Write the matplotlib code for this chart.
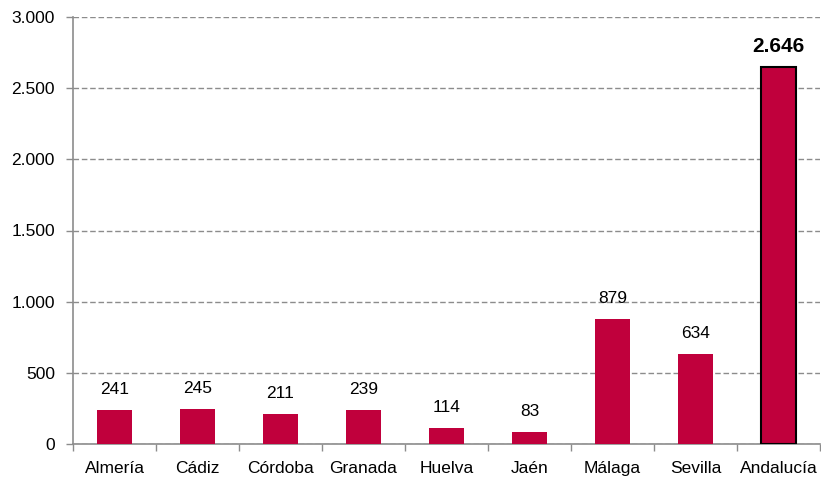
import matplotlib
matplotlib.use("Agg")
import matplotlib.pyplot as plt
from matplotlib.ticker import FuncFormatter, FixedLocator
import numpy as np

categories = ["Almería", "Cádiz", "Córdoba", "Granada", "Huelva", "Jaén", "Málaga", "Sevilla", "Andalucía"]
values = [241, 245, 211, 239, 114, 83, 879, 634, 2646]

plt.rcParams['font.family'] = ['Liberation Sans', 'DejaVu Sans']

fig = plt.figure(figsize=(8.21, 4.78), dpi=100)
ax = fig.add_axes([73/821, (478-444)/478, (820-73)/821, (444-17)/478])

color = "#C0003C"
x = np.arange(len(categories))
for i, v in enumerate(values):
    last = i == len(values) - 1
    ax.bar(x[i], v, width=0.41, color=color,
           edgecolor="black" if last else color, linewidth=1.5 if last else 0, zorder=3)
    ax.text(x[i], v + 145, f"{v:,}".replace(",", "."), ha="center", va="center",
            fontsize=15 if last else 12.5, fontweight="bold" if last else "normal", zorder=4)

ax.set_xlim(-0.5, len(categories) - 0.5)
ax.set_ylim(0, 3000)
ax.set_yticks(np.arange(0, 3001, 500))
ax.yaxis.set_major_formatter(FuncFormatter(lambda v, p: f"{int(v):,}".replace(",", ".")))
ax.set_xticks(x)
ax.set_xticklabels(categories)
ax.xaxis.set_minor_locator(FixedLocator(np.arange(-0.5, len(categories), 1.0)))
ax.tick_params(axis="x", which="major", length=0, pad=12, labelsize=12.5)
ax.tick_params(axis="x", which="minor", length=5, color="#8c8c8c", width=1)
ax.tick_params(axis="y", length=5, color="#8c8c8c", width=1, labelsize=12.5, pad=8)

ax.grid(axis="y", linestyle=(0, (4, 2)), color="#8c8c8c", linewidth=1, zorder=0)
for s in ["top", "right"]:
    ax.spines[s].set_visible(False)
for s in ["left", "bottom"]:
    ax.spines[s].set_color("#8c8c8c")
    ax.spines[s].set_linewidth(1.2)

fig.savefig("out.png", dpi=100)
